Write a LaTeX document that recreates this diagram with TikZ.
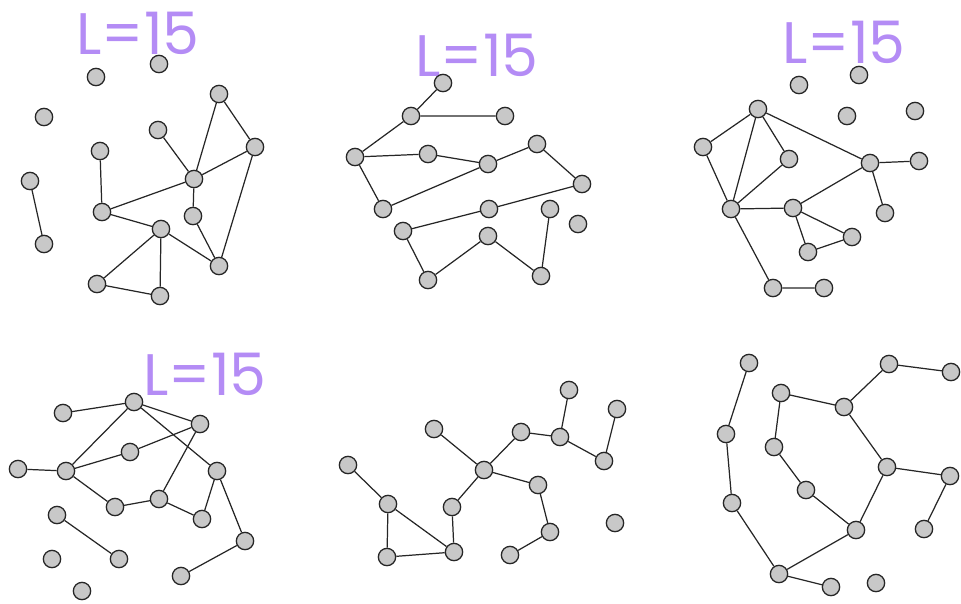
\documentclass[tikz,border=0pt]{standalone}
\usepackage{fontspec}
\setmainfont{Poppins}
\usepackage{tikz}

\definecolor{vgray}{RGB}{200,200,200}
\definecolor{lilac}{RGB}{180,140,245}

\tikzset{
	vtx/.style={circle, draw=black!85, fill=vgray, line width=1.1pt, minimum size=0.52cm, inner sep=0pt},
	edg/.style={line width=1.05pt, color=black!85},
	lenlabel/.style={color=lilac, font=\fontsize{50}{50}\selectfont, inner sep=0pt}
}

\begin{document}
\begin{tikzpicture}[x=0.03cm, y=-0.03cm]
	\useasboundingbox (0,0) rectangle (961,603);

	% first graph
	\node[lenlabel] (lA) at (138,33) {L=15};
	\node[vtx] (a1) at (96,77) {};
	\node[vtx] (a2) at (159,64) {};
	\node[vtx] (a3) at (44,117) {};
	\node[vtx] (a4) at (219,94) {};
	\node[vtx] (a5) at (158,130) {};
	\node[vtx] (a6) at (255,147) {};
	\node[vtx] (a7) at (100,151) {};
	\node[vtx] (a8) at (30,181) {};
	\node[vtx] (a9) at (194,179) {};
	\node[vtx] (a10) at (102,212) {};
	\node[vtx] (a11) at (193,216) {};
	\node[vtx] (a12) at (161,229) {};
	\node[vtx] (a13) at (44,244) {};
	\node[vtx] (a14) at (219,266) {};
	\node[vtx] (a15) at (97,284) {};
	\node[vtx] (a16) at (160,296) {};
	\draw[edg] (a8) -- (a13);
	\draw[edg] (a7) -- (a10) -- (a9) -- (a5);
	\draw[edg] (a10) -- (a12);
	\draw[edg] (a4) -- (a9) -- (a6) -- (a4);
	\draw[edg] (a6) -- (a14);
	\draw[edg] (a9) -- (a11) -- (a14) -- (a12);
	\draw[edg] (a12) -- (a15) -- (a16) -- (a12);

	% second graph
	\node[lenlabel] (lB) at (477,55) {L=15};
	\node[vtx] (b1) at (443,83) {};
	\node[vtx] (b2) at (411,116) {};
	\node[vtx] (b3) at (505,116) {};
	\node[vtx] (b4) at (355,157) {};
	\node[vtx] (b5) at (428,154) {};
	\node[vtx] (b6) at (488,164) {};
	\node[vtx] (b7) at (537,144) {};
	\node[vtx] (b8) at (582,184) {};
	\node[vtx] (b9) at (383,209) {};
	\node[vtx] (b10) at (489,209) {};
	\node[vtx] (b11) at (550,209) {};
	\node[vtx] (b12) at (578,224) {};
	\node[vtx] (b13) at (403,231) {};
	\node[vtx] (b14) at (488,236) {};
	\node[vtx] (b15) at (428,280) {};
	\node[vtx] (b16) at (541,276) {};
	\draw[edg] (b1) -- (b2) -- (b3);
	\draw[edg] (b2) -- (b4) -- (b5) -- (b6) -- (b7) -- (b8);
	\draw[edg] (b4) -- (b9) -- (b6);
	\draw[edg] (b8) -- (b10) -- (b13) -- (b15) -- (b14) -- (b16) -- (b11);

	% third graph
	\node[lenlabel] (lC) at (844,42) {L=15};
	\node[vtx] (c1) at (799,85) {};
	\node[vtx] (c2) at (859,75) {};
	\node[vtx] (c3) at (758,109) {};
	\node[vtx] (c4) at (847,116) {};
	\node[vtx] (c5) at (915,111) {};
	\node[vtx] (c6) at (703,147) {};
	\node[vtx] (c7) at (789,159) {};
	\node[vtx] (c8) at (870,163) {};
	\node[vtx] (c9) at (919,161) {};
	\node[vtx] (c10) at (731,209) {};
	\node[vtx] (c11) at (793,208) {};
	\node[vtx] (c12) at (885,213) {};
	\node[vtx] (c13) at (852,237) {};
	\node[vtx] (c14) at (808,252) {};
	\node[vtx] (c15) at (773,288) {};
	\node[vtx] (c16) at (824,288) {};
	\draw[edg] (c3) -- (c6) -- (c10) -- (c3) -- (c7) -- (c10);
	\draw[edg] (c3) -- (c8) -- (c11) -- (c10);
	\draw[edg] (c8) -- (c9);
	\draw[edg] (c8) -- (c12);
	\draw[edg] (c11) -- (c13) -- (c14) -- (c11);
	\draw[edg] (c10) -- (c15) -- (c16);

	% fourth graph
	\node[lenlabel] (lD) at (205,374) {L=15};
	\node[vtx] (d1) at (134,402) {};
	\node[vtx] (d2) at (63,413) {};
	\node[vtx] (d3) at (200,424) {};
	\node[vtx] (d4) at (130,452) {};
	\node[vtx] (d5) at (18,469) {};
	\node[vtx] (d6) at (66,471) {};
	\node[vtx] (d7) at (217,471) {};
	\node[vtx] (d8) at (159,499) {};
	\node[vtx] (d9) at (115,507) {};
	\node[vtx] (d10) at (57,515) {};
	\node[vtx] (d11) at (202,519) {};
	\node[vtx] (d12) at (245,541) {};
	\node[vtx] (d13) at (52,559) {};
	\node[vtx] (d14) at (119,559) {};
	\node[vtx] (d15) at (181,576) {};
	\node[vtx] (d16) at (82,591) {};
	\draw[edg] (d2) -- (d1) -- (d3);
	\draw[edg] (d1) -- (d7);
	\draw[edg] (d1) -- (d6) -- (d4) -- (d3) -- (d8);
	\draw[edg] (d5) -- (d6) -- (d9) -- (d8) -- (d11) -- (d7) -- (d12) -- (d15);
	\draw[edg] (d10) -- (d14);

	% fifth graph
	\node[vtx] (e1) at (569,390) {};
	\node[vtx] (e2) at (617,409) {};
	\node[vtx] (e3) at (434,429) {};
	\node[vtx] (e4) at (521,432) {};
	\node[vtx] (e5) at (560,437) {};
	\node[vtx] (e6) at (348,465) {};
	\node[vtx] (e7) at (604,461) {};
	\node[vtx] (e8) at (484,470) {};
	\node[vtx] (e9) at (538,485) {};
	\node[vtx] (e10) at (388,504) {};
	\node[vtx] (e11) at (452,507) {};
	\node[vtx] (e12) at (615,523) {};
	\node[vtx] (e13) at (550,532) {};
	\node[vtx] (e14) at (387,557) {};
	\node[vtx] (e15) at (454,552) {};
	\node[vtx] (e16) at (510,555) {};
	\draw[edg] (e1) -- (e5) -- (e7) -- (e2);
	\draw[edg] (e3) -- (e8) -- (e4) -- (e5);
	\draw[edg] (e8) -- (e9) -- (e13) -- (e16);
	\draw[edg] (e8) -- (e11) -- (e15);
	\draw[edg] (e6) -- (e10) -- (e14) -- (e15) -- (e10);

	% sixth graph
	\node[vtx] (f1) at (749,363) {};
	\node[vtx] (f2) at (889,364) {};
	\node[vtx] (f3) at (951,372) {};
	\node[vtx] (f4) at (781,393) {};
	\node[vtx] (f5) at (844,407) {};
	\node[vtx] (f6) at (726,434) {};
	\node[vtx] (f7) at (774,447) {};
	\node[vtx] (f8) at (887,467) {};
	\node[vtx] (f9) at (950,476) {};
	\node[vtx] (f10) at (806,490) {};
	\node[vtx] (f11) at (732,503) {};
	\node[vtx] (f12) at (856,530) {};
	\node[vtx] (f13) at (924,529) {};
	\node[vtx] (f14) at (779,574) {};
	\node[vtx] (f15) at (831,587) {};
	\node[vtx] (f16) at (876,583) {};
	\draw[edg] (f1) -- (f6) -- (f11) -- (f14) -- (f15);
	\draw[edg] (f14) -- (f12) -- (f10) -- (f7) -- (f4) -- (f5) -- (f2) -- (f3);
	\draw[edg] (f5) -- (f8) -- (f12);
	\draw[edg] (f8) -- (f9) -- (f13);
\end{tikzpicture}
\end{document}
